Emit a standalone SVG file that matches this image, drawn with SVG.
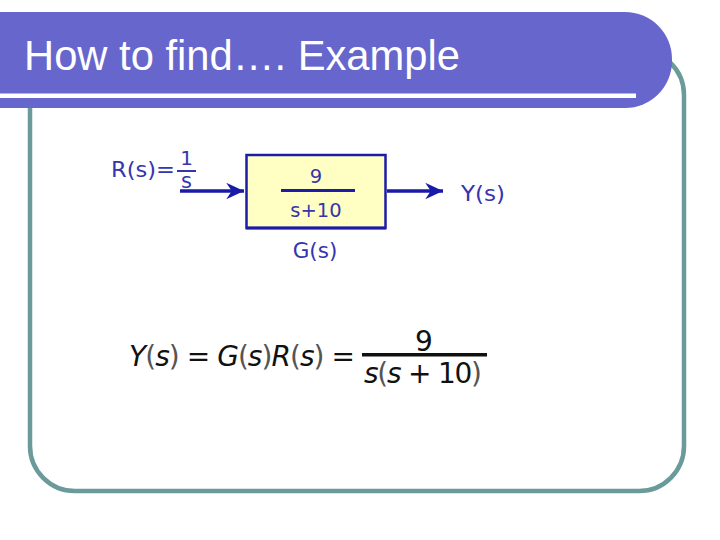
<svg xmlns="http://www.w3.org/2000/svg" width="720" height="540" viewBox="0 0 720 540">
<style>
.blk{font-family:"DejaVu Sans","Verdana",sans-serif;fill:#3535b0;}
.math{font-family:"DejaVu Sans","Verdana",sans-serif;fill:#111;font-size:28px;}
.it{font-style:italic;}
.par{fill:#555;}
.conn{stroke:#1a1aa8;stroke-width:3.5;fill:none;}
</style>
<defs>
<marker id="arr" markerUnits="userSpaceOnUse" markerWidth="20" markerHeight="20" viewBox="-17 -8 18 16" refX="0" refY="0" orient="auto">
<path d="M0,0 L-16,-7.5 L-11,0 L-16,7.5 Z" fill="#1a1aa8"/>
</marker>
</defs>
<rect width="720" height="540" fill="#ffffff"/>
<g id="frame">
<rect x="30" y="50" width="654" height="441" rx="45" ry="45" fill="none" stroke="#6a9a9a" stroke-width="4.5"/>
</g>
<g id="banner">
<rect x="-60" y="12" width="732" height="96" rx="47" ry="47" fill="#6666cc"/>
<rect x="0" y="93.5" width="636" height="4.5" fill="#ffffff"/>
<text x="24" y="70" font-family="'Liberation Sans',Arial,sans-serif" font-size="42" fill="#ffffff" textLength="436" lengthAdjust="spacingAndGlyphs">How to find…. Example</text>
</g>
<g id="connectors">
<line class="conn" x1="180" y1="191" x2="244" y2="191" marker-end="url(#arr)"/>
<line class="conn" x1="387" y1="191" x2="443" y2="191" marker-end="url(#arr)"/>
</g>
<g id="input">
<text class="blk" x="111" y="177" font-size="21.5" textLength="64" lengthAdjust="spacingAndGlyphs">R(s)=</text>
<text class="blk" x="186.5" y="165" font-size="20" text-anchor="middle">1</text>
<rect x="177" y="170" width="19" height="2" fill="#3535b0"/>
<text class="blk" x="186.5" y="188" font-size="21" text-anchor="middle">s</text>
</g>
<g id="G">
<rect x="246.5" y="155" width="139" height="73" fill="#ffffc4" stroke="#1c1ca8" stroke-width="2.5"/>
<line x1="246" y1="228" x2="386" y2="228" stroke="#1c1ca8" stroke-width="3"/>
<text class="blk" x="316" y="183" font-size="19.5" text-anchor="middle">9</text>
<rect x="281" y="189" width="74" height="3" fill="#1c1ca8"/>
<text class="blk" x="316" y="217" font-size="19.5" text-anchor="middle">s+10</text>
<text class="blk" x="315" y="258" font-size="21.5" text-anchor="middle">G(s)</text>
</g>
<g id="output">
<text class="blk" x="461" y="201" font-size="22" textLength="44" lengthAdjust="spacingAndGlyphs">Y(s)</text>
</g>
<g id="formula">
<text class="math" x="129" y="366" textLength="226" lengthAdjust="spacing"><tspan class="it">Y</tspan><tspan class="par">(</tspan><tspan class="it">s</tspan><tspan class="par">)</tspan> = <tspan class="it">G</tspan><tspan class="par">(</tspan><tspan class="it">s</tspan><tspan class="par">)</tspan><tspan class="it">R</tspan><tspan class="par">(</tspan><tspan class="it">s</tspan><tspan class="par">)</tspan> =</text>
<rect x="362" y="353" width="125" height="3.5" fill="#111"/>
<text class="math" x="424" y="351" text-anchor="middle">9</text>
<text class="math" x="364" y="383" textLength="118" lengthAdjust="spacing"><tspan class="it">s</tspan><tspan class="par">(</tspan><tspan class="it">s</tspan> + 10<tspan class="par">)</tspan></text>
</g>
</svg>
